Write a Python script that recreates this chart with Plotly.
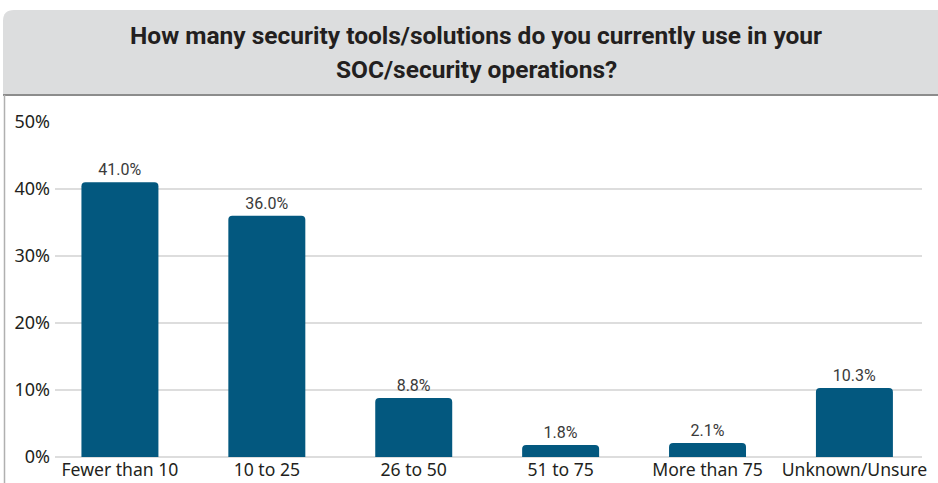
import plotly.graph_objects as go

categories = ["Fewer than 10", "10 to 25", "26 to 50", "51 to 75", "More than 75", "Unknown/Unsure"]
values = [41.0, 36.0, 8.8, 1.8, 2.1, 10.3]
tick_vals = [0, 10, 20, 30, 40, 50]
tick_text = ["0%", "10%", "20%", "30%", "40%", "50%"]
title_lines = ["How many security tools/solutions do you currently use in your",
               "SOC/security operations?"]

W, H = 938, 483
ML, MR, MT, MB = 55, 16, 122, 26
PW, PH = W - ML - MR, H - MT - MB


def px(x):
    return (x - ML) / PW


def py(y):
    return (H - MB - y) / PH


fig = go.Figure(go.Bar(
    x=list(range(len(categories))),
    y=values,
    width=0.524,
    marker=dict(color="#03587F", cornerradius=4, line=dict(width=0)),
    text=[f"{v:.1f}%" for v in values],
    textposition="outside",
    cliponaxis=False,
    textfont=dict(family="Roboto", size=16, color="#3a3a3a"),
))

# title box with rounded top-left corner
r = 11
x0, x1, y0, y1 = 3, 940, 10, 95
path = (f"M {px(x0)},{py(y1)} L {px(x0)},{py(y0 + r)} Q {px(x0)},{py(y0)} {px(x0 + r)},{py(y0)} "
        f"L {px(x1)},{py(y0)} L {px(x1)},{py(y1)} Z")
shapes = [
    dict(type="path", xref="paper", yref="paper", path=path, fillcolor="#DCDDDE", line=dict(width=0), layer="below"),
    dict(type="line", xref="paper", yref="paper", x0=px(3), x1=px(940), y0=py(95), y1=py(95),
         line=dict(color="#8C8C8C", width=2)),
    dict(type="line", xref="paper", yref="paper", x0=px(4.5), x1=px(4.5), y0=py(95), y1=py(490),
         line=dict(color="#B0B0B0", width=1.5)),
]

title_font = dict(family="Roboto", size=24.5, color="#231F20", weight="bold")
annotations = [
    dict(text=title_lines[0], xref="paper", yref="paper",
         x=px(476), y=py(35), xanchor="center", yanchor="middle", showarrow=False, font=title_font),
    dict(text=title_lines[1], xref="paper", yref="paper",
         x=px(476), y=py(70), xanchor="center", yanchor="middle", showarrow=False, font=title_font),
]

fig.update_layout(
    width=W, height=H,
    margin=dict(l=ML, r=MR, t=MT, b=MB, pad=0),
    paper_bgcolor="white", plot_bgcolor="white",
    showlegend=False,
    shapes=shapes,
    annotations=annotations,
    xaxis=dict(
        range=[-0.442, 5.46],
        tickvals=list(range(len(categories))),
        ticktext=categories,
        showgrid=False, zeroline=False, showline=False, ticks="",
        tickfont=dict(family="Noto Sans, Open Sans", size=17.6, color="#231F20"),
        automargin=False,
        fixedrange=True,
    ),
    yaxis=dict(
        range=[0, 50],
        tickvals=tick_vals,
        ticktext=tick_text,
        showgrid=True, gridcolor="#DDDDDD", gridwidth=1.5,
        zeroline=True, zerolinecolor="#DDDDDD", zerolinewidth=1.5,
        showline=False, ticks="",
        tickfont=dict(family="Noto Sans, Open Sans", size=18, color="#231F20"),
        ticklabelstandoff=4,
        automargin=False,
        fixedrange=True,
    ),
)

fig.write_html("out.html")
